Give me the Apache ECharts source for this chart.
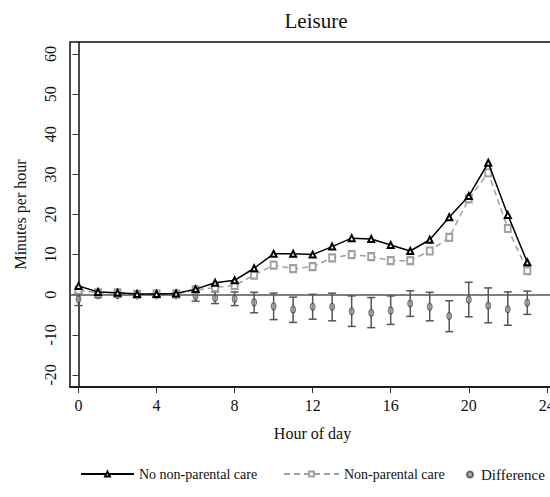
<!DOCTYPE html>
<html>
<head>
<meta charset="utf-8">
<script src="https://cdn.jsdelivr.net/npm/echarts@6/dist/echarts.min.js"></script>
<style>
html,body{margin:0;padding:0;background:#fff;}
#chart{width:550px;height:497px;}
</style>
</head>
<body>
<div id="chart"></div>
<script>
var hours = [0,1,2,3,4,5,6,7,8,9,10,11,12,13,14,15,16,17,18,19,20,21,22,23];
var noCare = [2.2,0.7,0.5,0.2,0.2,0.3,1.4,3.0,3.6,6.6,10.2,10.2,10.0,12.0,14.1,13.9,12.4,10.9,13.7,19.3,24.6,32.9,19.9,8.1];
var care = [1.1,0.5,0.5,0.1,0.2,0.2,1.2,1.8,2.3,4.9,7.4,6.5,7.0,9.2,10.0,9.5,8.5,8.5,10.9,14.3,23.9,30.4,16.5,6.0];
var diff = [-1.1,-0.1,-0.1,-0.2,-0.1,-0.1,-0.3,-0.8,-1.0,-1.9,-2.9,-3.7,-3.0,-3.0,-4.1,-4.5,-3.9,-2.2,-3.0,-5.3,-1.2,-2.7,-3.6,-2.0];
var diffLow = [-2.7,-0.7,-0.6,-0.6,-0.5,-0.6,-1.6,-2.2,-2.7,-4.5,-6.2,-6.9,-6.1,-6.5,-7.9,-8.2,-7.4,-5.4,-6.5,-9.2,-5.5,-7.0,-7.6,-4.9];
var diffHigh = [0.5,0.5,0.4,0.2,0.3,0.4,1.0,0.7,0.7,0.6,0.4,-0.6,0.1,0.4,-0.3,-0.7,-0.3,1.0,0.6,-1.5,3.1,1.7,0.7,0.9];
var xTicks = [0,4,8,12,16,20,24];
var yTicks = [-20,-10,0,10,20,30,40,50,60];
var titleText = 'Leisure';
var xName = 'Hour of day';
var yName = 'Minutes per hour';
var names = ['No non-parental care','Non-parental care','Difference'];

var FONT = 'Liberation Serif';
var chart = echarts.init(document.getElementById('chart'), null, {renderer:'svg'});

function zip(a,b){ return a.map(function(v,i){ return [v,b[i]]; }); }
var errData = hours.map(function(h,i){ return [h, diffLow[i], diffHigh[i]]; });
var legText = {fontFamily:FONT,fontSize:14,color:'#111'};

var option = {
  animation:false,
  backgroundColor:'#fff',
  title:{text:titleText,left:311,top:5,textAlign:'center',
    textStyle:{fontFamily:FONT,fontSize:21,fontWeight:'normal',color:'#111'}},
  legend:[
    {data:[names[0]],left:80,top:467,padding:0,itemWidth:53,itemHeight:6,itemGap:0,textStyle:legText},
    {data:[names[1]],left:283,top:467,padding:0,itemWidth:55,itemHeight:6,itemGap:0,textStyle:legText},
    {data:[names[2]],left:466,top:467,padding:0,itemWidth:12,itemHeight:6,itemGap:0,
      textStyle:{fontFamily:FONT,fontSize:15,color:'#111'}}
  ],
  grid:{left:70,top:42,width:485,height:345,show:true,borderColor:'#111',borderWidth:1.5,
    backgroundColor:'#fff',outerBoundsMode:'none',containLabel:false},
  xAxis:{type:'value',min:-0.436,max:24.42,
    name:xName,nameLocation:'middle',nameGap:38,
    nameTextStyle:{fontFamily:FONT,fontSize:16,color:'#111'},
    axisLine:{show:true,onZero:false,lineStyle:{color:'#111',width:1.5}},
    axisTick:{show:true,length:6,customValues:xTicks,lineStyle:{color:'#333',width:1}},
    axisLabel:{customValues:xTicks,margin:10,fontFamily:FONT,fontSize:16,color:'#111',hideOverlap:false},
    splitLine:{show:false}},
  yAxis:{type:'value',min:-23,max:63,
    name:yName,nameLocation:'middle',nameGap:42,
    nameTextStyle:{fontFamily:FONT,fontSize:16,color:'#111'},
    axisLine:{show:true,lineStyle:{color:'#111',width:1.5}},
    axisTick:{show:true,length:6,customValues:yTicks,lineStyle:{color:'#333',width:1}},
    axisLabel:{customValues:yTicks,rotate:90,margin:12,fontFamily:FONT,fontSize:16,color:'#111'},
    splitLine:{show:false}},
  series:[
    {type:'custom',name:'errbars',data:errData,z:2,silent:true,
      renderItem:function(params,api){
        var x=api.value(0), lo=api.value(1), hi=api.value(2);
        var p1=api.coord([x,lo]), p2=api.coord([x,hi]);
        var w=4;
        var st={stroke:'#555',lineWidth:1.5};
        return {type:'group',children:[
          {type:'line',shape:{x1:p1[0],y1:p1[1],x2:p2[0],y2:p2[1]},style:st},
          {type:'line',shape:{x1:p1[0]-w,y1:p1[1],x2:p1[0]+w,y2:p1[1]},style:st},
          {type:'line',shape:{x1:p2[0]-w,y1:p2[1],x2:p2[0]+w,y2:p2[1]},style:st}
        ]};
      },
      markLine:{silent:true,symbol:'none',label:{show:false},
        lineStyle:{color:'#555',width:1.5,type:'solid'},data:[{yAxis:0}]}
    },
    {type:'scatter',name:names[2],data:zip(hours,diff),z:3,
      symbol:'circle',symbolSize:[5,7],
      itemStyle:{color:'#9a9a9a',borderColor:'#444',borderWidth:1}},
    {type:'line',name:names[1],data:zip(hours,care),z:4,
      symbol:'emptyRect',symbolSize:[6,7],showAllSymbol:true,
      lineStyle:{color:'#a0a0a0',width:1.5,type:[6,4]},
      itemStyle:{color:'#a0a0a0',borderWidth:1.2}},
    {type:'line',name:names[0],data:zip(hours,noCare),z:5,
      symbol:'emptyTriangle',symbolSize:[6,6],showAllSymbol:true,
      lineStyle:{color:'#000',width:1.5},
      itemStyle:{color:'#000',borderWidth:1}}
  ]
};
chart.setOption(option);
</script>
</body>
</html>
